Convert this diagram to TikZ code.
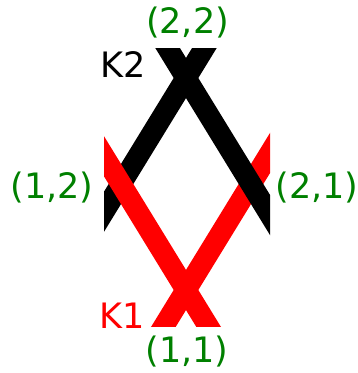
\documentclass[tikz,border=0pt]{standalone}
\usepackage{fontspec}
\setmainfont{DejaVu Sans}
\usetikzlibrary{calc}
\definecolor{mplgreen}{HTML}{008000}
\begin{document}
\begin{tikzpicture}[x=1pt,y=-1pt,
  band/.style={line width=21pt},
  lbl/.style={inner sep=0pt,anchor=base,font=\fontsize{35}{42}\selectfont},
  pt/.style={lbl,text=mplgreen}]
\useasboundingbox (0,0) rectangle (357,373);
\coordinate (p12) at (121,184);
\coordinate (p22) at (186,78);
\coordinate (p21) at (251,184);
\coordinate (p11) at (186,290);
\begin{scope}
\clip (104,48) rectangle (270,326);
\draw[band,black] ($(p12)!-0.6!(p22)$) -- ($(p22)!-0.6!(p12)$);
\draw[band,red] ($(p11)!-0.6!(p12)$) -- ($(p12)!-0.6!(p11)$);
\draw[band,red] ($(p11)!-0.6!(p21)$) -- ($(p21)!-0.6!(p11)$);
\draw[band,black] ($(p22)!-0.6!(p21)$) -- ($(p21)!-0.6!(p22)$);
\end{scope}
\node[pt] (l22) at (187.5,33) {(2,2)};
\node[pt] (l12) at (52,198) {(1,2)};
\node[pt] (l21) at (317,198) {(2,1)};
\node[pt] (l11) at (187,362) {(1,1)};
\node[lbl,text=black] (k2) at (123,77) {K2};
\node[lbl,text=red] (k1) at (122,328) {K1};
\end{tikzpicture}
\end{document}
